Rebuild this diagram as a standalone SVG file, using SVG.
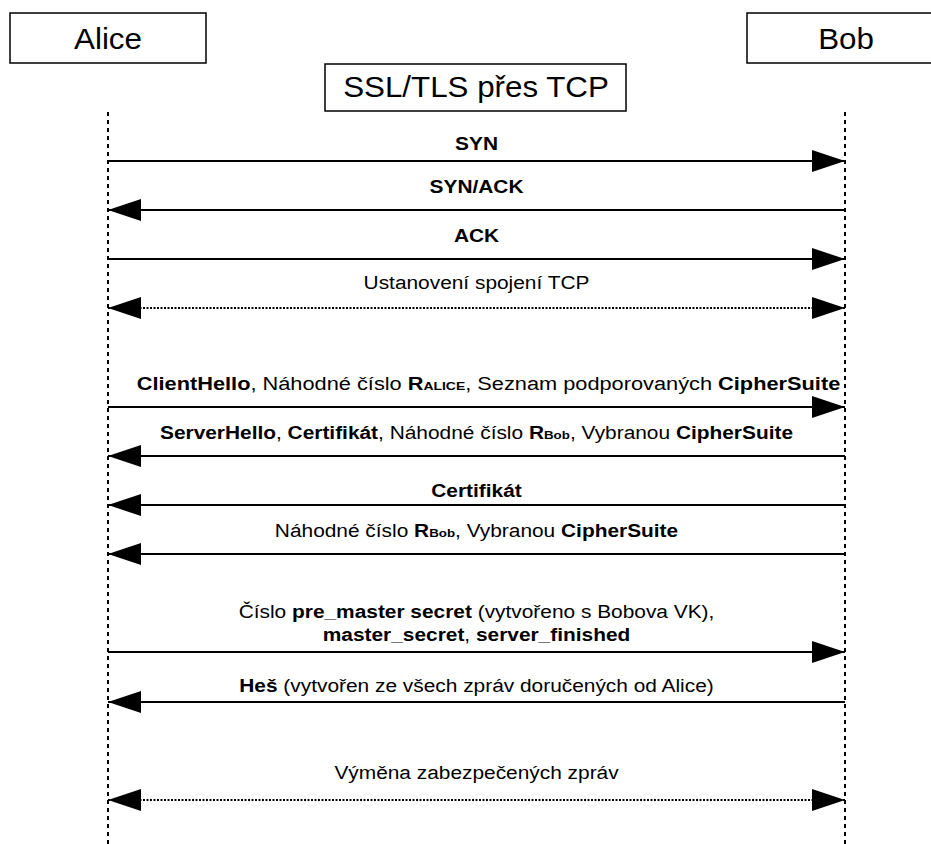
<svg xmlns="http://www.w3.org/2000/svg" width="931" height="844" viewBox="0 0 931 844">
<defs>
<style>
.box{fill:#fff;stroke:#000;stroke-width:1.5}
.big{font-family:"Liberation Sans",Arial,sans-serif;font-size:29px;fill:#000;text-anchor:middle}
.lbl{font-family:"Liberation Sans",Arial,sans-serif;font-size:18px;fill:#000;text-anchor:middle}
.b{font-weight:bold}
.sm{font-size:11.5px;font-weight:bold}
.life{stroke:#000;stroke-width:2;stroke-dasharray:4 4;fill:none}
.msg{stroke:#000;stroke-width:2;fill:none}
.dot{stroke:#000;stroke-width:2;stroke-dasharray:2 1.5;fill:none}
</style>
<marker id="ah" viewBox="0 0 33 22" refX="33" refY="11" markerWidth="33" markerHeight="22" markerUnits="userSpaceOnUse" orient="auto-start-reverse">
<path d="M0,0 L33,11 L0,22 Z" fill="#000"/>
</marker>
</defs>
<g id="alice"><rect class="box" x="10" y="13" width="196" height="50"/><text class="big" transform="translate(108,0) scale(1.08,1)" x="0" y="49">Alice</text></g>
<g id="bob"><rect class="box" x="747" y="13" width="198" height="50"/><text class="big" transform="translate(846,0) scale(1.08,1)" x="0" y="49">Bob</text></g>
<g id="title"><rect class="box" x="325" y="64" width="301" height="47"/><text class="big" transform="translate(476,0) scale(1.08,1)" x="0" y="97">SSL/TLS přes TCP</text></g>
<g id="lifelines"><line class="life" x1="108" y1="112" x2="108" y2="844"/><line class="life" x1="845" y1="112" x2="845" y2="844"/></g>
<g id="connectors">
<line class="msg" x1="108" y1="161" x2="845" y2="161" marker-end="url(#ah)"/>
<line class="msg" x1="845" y1="210" x2="108" y2="210" marker-end="url(#ah)"/>
<line class="msg" x1="108" y1="259" x2="845" y2="259" marker-end="url(#ah)"/>
<line class="dot" x1="108" y1="308" x2="845" y2="308" marker-start="url(#ah)" marker-end="url(#ah)"/>
<line class="msg" x1="108" y1="407" x2="845" y2="407" marker-end="url(#ah)"/>
<line class="msg" x1="845" y1="456" x2="108" y2="456" marker-end="url(#ah)"/>
<line class="msg" x1="845" y1="505" x2="108" y2="505" marker-end="url(#ah)"/>
<line class="msg" x1="845" y1="554" x2="108" y2="554" marker-end="url(#ah)"/>
<line class="msg" x1="108" y1="652" x2="845" y2="652" marker-end="url(#ah)"/>
<line class="msg" x1="845" y1="702" x2="108" y2="702" marker-end="url(#ah)"/>
<line class="dot" x1="108" y1="800" x2="845" y2="800" marker-start="url(#ah)" marker-end="url(#ah)"/>
</g>
<g id="labels" transform="translate(476.5,0) scale(1.16,1)">
<text class="lbl b" x="0" y="150">SYN</text>
<text class="lbl b" x="0" y="193">SYN/ACK</text>
<text class="lbl b" x="0" y="242">ACK</text>
<text class="lbl" x="0" y="289">Ustanovení spojení TCP</text>
<text class="lbl" x="0" y="439"><tspan class="b">ServerHello</tspan>, <tspan class="b">Certifikát</tspan>, Náhodné číslo <tspan class="b">R</tspan><tspan class="sm">Bob</tspan>, Vybranou <tspan class="b">CipherSuite</tspan></text>
<text class="lbl b" x="0" y="497">Certifikát</text>
<text class="lbl" x="0" y="537">Náhodné číslo <tspan class="b">R</tspan><tspan class="sm">Bob</tspan>, Vybranou <tspan class="b">CipherSuite</tspan></text>
<text class="lbl" x="0" y="618">Číslo <tspan class="b">pre_master secret</tspan> (vytvořeno s Bobova VK),</text>
<text class="lbl" x="0" y="641"><tspan class="b">master_secret</tspan>, <tspan class="b">server_finished</tspan></text>
<text class="lbl" x="0" y="692"><tspan class="b">Heš</tspan> (vytvořen ze všech zpráv doručených od Alice)</text>
<text class="lbl" x="0" y="779">Výměna zabezpečených zpráv</text>
</g>
<g id="label-clienthello" transform="translate(488.5,0) scale(1.21,1)">
<text class="lbl" x="0" y="390"><tspan class="b">ClientHello</tspan>, Náhodné číslo <tspan class="b">R</tspan><tspan class="sm">ALICE</tspan>, Seznam podporovaných <tspan class="b">CipherSuite</tspan></text>
</g>
</svg>
